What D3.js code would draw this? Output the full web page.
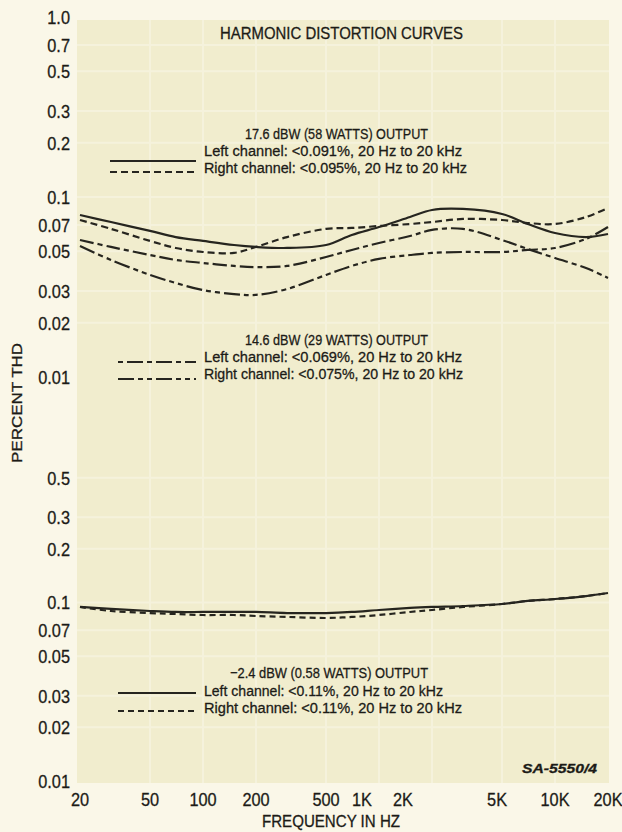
<!DOCTYPE html>
<html>
<head>
<meta charset="utf-8">
<script src="https://cdn.jsdelivr.net/npm/d3@7"></script>
<style>
  html, body { margin: 0; padding: 0; background: #faf7e8; }
  svg { display: block; font-family: 'Liberation Sans', Arial, sans-serif; }
  text { fill: #1c1b17; stroke: #1c1b17; stroke-width: 0.3px; }
</style>
</head>
<body>
<script>
// Chart values
const freqs = [20, 30, 50, 70, 100, 150, 200, 300, 500, 700, 1000, 1500, 2000, 3000, 5000, 7000, 10000, 15000, 20000];

// 17.6 dBW (58 W)
const left58  = [0.0794, 0.0726, 0.0648, 0.0599, 0.0570, 0.0541, 0.0528, 0.0521, 0.0541, 0.0615, 0.0681, 0.0774, 0.0847, 0.0858, 0.0805, 0.0708, 0.0631, 0.0599, 0.0623];
const right58 = [0.0745, 0.0665, 0.0570, 0.0521, 0.0495, 0.0489, 0.0528, 0.0599, 0.0665, 0.0673, 0.0690, 0.0708, 0.0726, 0.0755, 0.0745, 0.0717, 0.0708, 0.0774, 0.0869];
// 14.6 dBW (29 W)
const left29  = [0.0577, 0.0528, 0.0476, 0.0447, 0.0430, 0.0414, 0.0408, 0.0414, 0.0464, 0.0508, 0.0555, 0.0607, 0.0656, 0.0665, 0.0577, 0.0514, 0.0458, 0.0403, 0.0355];
const right29 = [0.0534, 0.0447, 0.0369, 0.0333, 0.0304, 0.0289, 0.0286, 0.0308, 0.0369, 0.0414, 0.0453, 0.0476, 0.0489, 0.0495, 0.0495, 0.0508, 0.0521, 0.0585, 0.0681];
// -2.4 dBW (0.58 W)
const left058  = [0.0944, 0.0920, 0.0896, 0.0885, 0.0885, 0.0885, 0.0885, 0.0873, 0.0873, 0.0885, 0.0908, 0.0932, 0.0944, 0.0956, 0.0981, 0.1020, 0.1046, 0.1087, 0.1130];
const right058 = [0.0944, 0.0896, 0.0873, 0.0862, 0.0851, 0.0851, 0.0840, 0.0830, 0.0819, 0.0830, 0.0851, 0.0885, 0.0908, 0.0944, 0.0981, 0.1020, 0.1046, 0.1087, 0.1130];

// Tick values and labels
const xTicks = [20, 50, 100, 200, 500, 1000, 2000, 5000, 10000, 20000];
const xTickLabels = ['20', '50', '100', '200', '500', '1K', '2K', '5K', '10K', '20K'];
const yTopTicks = [1, 0.7, 0.5, 0.3, 0.2, 0.1, 0.07, 0.05, 0.03, 0.02, 0.01];
const yTopLabels = ['1.0', '0.7', '0.5', '0.3', '0.2', '0.1', '0.07', '0.05', '0.03', '0.02', '0.01'];
const yBotTicks = [0.5, 0.3, 0.2, 0.1, 0.07, 0.05, 0.03, 0.02, 0.01];
const yBotLabels = ['0.5', '0.3', '0.2', '0.1', '0.07', '0.05', '0.03', '0.02', '0.01'];

// Size of the page
const w = 622;
const h = 832;

const svg = d3.select('body')
  .append('svg')
  .attr('width', w)
  .attr('height', h);

// Scales
const xScale = d3.scaleLog().domain([20, 20000]).range([80, 608]);
const yTop = d3.scaleLog().domain([0.01, 1]).range([377, 17]);
const yBot = d3.scaleLog().domain([0.01, 1]).range([781, 424]);

// Plot background
svg.append('rect')
  .attr('x', 77).attr('y', 20)
  .attr('width', 532).attr('height', 763)
  .attr('fill', '#f1edce');

// Faint lighter grid lines
const grid = svg.append('g')
  .attr('stroke', '#f5f2dc')
  .attr('stroke-width', 2);

grid.selectAll('.vgrid')
  .data(xTicks.slice(1, -1))
  .enter()
  .append('line')
  .attr('x1', (d) => xScale(d)).attr('x2', (d) => xScale(d))
  .attr('y1', 20).attr('y2', 783);

grid.selectAll('.hgridTop')
  .data(yTopTicks.filter((d) => d < 1 && d > 0.01))
  .enter()
  .append('line')
  .attr('x1', 77).attr('x2', 609)
  .attr('y1', (d) => yTop(d)).attr('y2', (d) => yTop(d));

grid.selectAll('.hgridBot')
  .data(yBotTicks.filter((d) => d > 0.01))
  .enter()
  .append('line')
  .attr('x1', 77).attr('x2', 609)
  .attr('y1', (d) => yBot(d)).attr('y2', (d) => yBot(d));

// Tick labels
const tickSize = 19;
const tickScaleX = 0.86;
// the printed 1K / 2K / 5K labels sit a little left of their grid lines
const labelShift = { '1K': -17, '2K': -29, '5K': -5 };

svg.append('g')
  .selectAll('text')
  .data(xTicks)
  .enter()
  .append('text')
  .attr('font-size', tickSize)
  .attr('text-anchor', 'middle')
  .attr('transform', (d, i) => 'translate(' + (xScale(d) + (labelShift[xTickLabels[i]] || 0)) + ',806) scale(' + tickScaleX + ',1)')
  .text((d, i) => xTickLabels[i]);

svg.append('g')
  .selectAll('text')
  .data(yTopTicks)
  .enter()
  .append('text')
  .attr('font-size', tickSize)
  .attr('text-anchor', 'end')
  .attr('dy', '0.36em')
  .attr('transform', (d) => 'translate(70,' + yTop(d) + ') scale(' + tickScaleX + ',1)')
  .text((d, i) => yTopLabels[i]);

svg.append('g')
  .selectAll('text')
  .data(yBotTicks)
  .enter()
  .append('text')
  .attr('font-size', tickSize)
  .attr('text-anchor', 'end')
  .attr('dy', '0.36em')
  .attr('transform', (d) => 'translate(70,' + yBot(d) + ') scale(' + tickScaleX + ',1)')
  .text((d, i) => yBotLabels[i]);

// Curves
const ink = '#26251f';
const series = [
  { values: left58, y: yTop, dash: null },
  { values: right58, y: yTop, dash: '7,4' },
  { values: left29, y: yTop, dash: '14,4,5,4' },
  { values: right29, y: yTop, dash: '16,4,5,4,5,4' },
  { values: left058, y: yBot, dash: null },
  { values: right058, y: yBot, dash: '6,4' }
];

series.forEach((s) => {
  const line = d3.line()
    .x((d, i) => xScale(freqs[i]))
    .y((d) => s.y(d))
    .curve(d3.curveCatmullRom.alpha(0.5));
  svg.append('path')
    .datum(s.values)
    .attr('d', line)
    .attr('fill', 'none')
    .attr('stroke', ink)
    .attr('stroke-width', 2.2)
    .attr('stroke-dasharray', s.dash);
});

// Texts (condensed look through textLength)
const addText = (str, x, y, size, len, extra) => {
  const t = svg.append('text')
    .attr('x', x).attr('y', y)
    .attr('font-size', size)
    .attr('textLength', len)
    .attr('lengthAdjust', 'spacingAndGlyphs')
    .text(str);
  if (extra) extra(t);
  return t;
};

addText('HARMONIC DISTORTION CURVES', 220, 39, 17, 243);

// Legend blocks
const legendBlocks = [
  { head: '17.6 dBW (58 WATTS) OUTPUT', hx: 245, hy: 139, hl: 183,
    rows: [
      { txt: 'Left channel: <0.091%, 20 Hz to 20 kHz', ty: 156, tl: 258, lx: 110, ly: 161, dash: null },
      { txt: 'Right channel: <0.095%, 20 Hz to 20 kHz', ty: 173, tl: 263, lx: 110, ly: 172, dash: '7,4' }
    ] },
  { head: '14.6 dBW (29 WATTS) OUTPUT', hx: 245, hy: 345, hl: 183,
    rows: [
      { txt: 'Left channel: <0.069%, 20 Hz to 20 kHz', ty: 362, tl: 258, lx: 118, ly: 362, dash: '5,4,16,4' },
      { txt: 'Right channel: <0.075%, 20 Hz to 20 kHz', ty: 379, tl: 259, lx: 118, ly: 379, dash: '16,4,5,4,5,4' }
    ] },
  { head: '\u22122.4 dBW (0.58 WATTS) OUTPUT', hx: 230, hy: 678, hl: 198,
    rows: [
      { txt: 'Left channel: <0.11%, 20 Hz to 20 kHz', ty: 696, tl: 239, lx: 118, ly: 693, dash: null },
      { txt: 'Right channel: <0.11%, 20 Hz to 20 kHz', ty: 713, tl: 258, lx: 118, ly: 711, dash: '6,4' }
    ] }
];

legendBlocks.forEach((b) => {
  addText(b.head, b.hx, b.hy, 15.5, b.hl);
  b.rows.forEach((r) => {
    addText(r.txt, 204, r.ty, 15.5, r.tl);
    svg.append('line')
      .attr('x1', r.lx).attr('x2', 196)
      .attr('y1', r.ly).attr('y2', r.ly)
      .attr('stroke', ink)
      .attr('stroke-width', 2)
      .attr('stroke-dasharray', r.dash);
  });
});

// Figure code
addText('SA-5550/4', 522, 773, 13, 75, (t) => t.attr('font-style', 'italic').attr('font-weight', 'bold'));

// Axis titles
addText('FREQUENCY IN HZ', 262, 827, 16, 138);

svg.append('text')
  .attr('transform', 'translate(22,403) rotate(-90)')
  .attr('text-anchor', 'middle')
  .attr('font-size', 15)
  .attr('textLength', 120)
  .attr('lengthAdjust', 'spacingAndGlyphs')
  .text('PERCENT THD');
</script>
</body>
</html>
